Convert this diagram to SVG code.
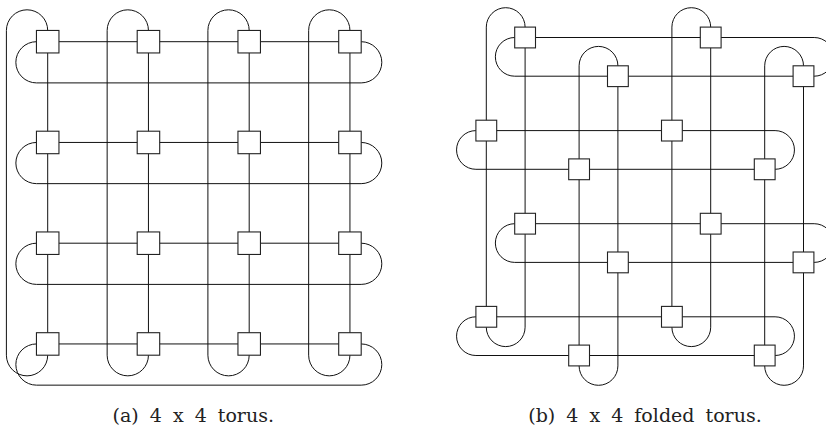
<svg xmlns="http://www.w3.org/2000/svg" width="826" height="432" viewBox="0 0 826 432">
<style>
.w{fill:none;stroke:#111;stroke-width:1}
.n{fill:#fff;stroke:#222;stroke-width:1.1}
.cap{font-family:"DejaVu Serif","Liberation Serif",serif;font-size:19px;fill:#222;text-anchor:middle;word-spacing:5px}
</style>
<rect width="826" height="432" fill="#fff"/>
<g id="connectors-a">
<path class="w" d="M36.45,41.7H361.2A20.6,20.6 0 0 1 361.2,82.9H36.45A20.6,20.6 0 0 1 36.45,41.7Z"/>
<path class="w" d="M36.45,142.45H361.2A20.6,20.6 0 0 1 361.2,183.65H36.45A20.6,20.6 0 0 1 36.45,142.45Z"/>
<path class="w" d="M36.45,243.2H361.2A20.6,20.6 0 0 1 361.2,284.4H36.45A20.6,20.6 0 0 1 36.45,243.2Z"/>
<path class="w" d="M36.45,343.95H361.2A20.6,20.6 0 0 1 361.2,385.15H36.45A20.6,20.6 0 0 1 36.45,343.95Z"/>
<path class="w" d="M47.7,30.45V355.2A20.65,20.65 0 0 1 6.4,355.2V30.45A20.65,20.65 0 0 1 47.7,30.45Z"/>
<path class="w" d="M148.45,30.45V355.2A20.65,20.65 0 0 1 107.15,355.2V30.45A20.65,20.65 0 0 1 148.45,30.45Z"/>
<path class="w" d="M249.2,30.45V355.2A20.65,20.65 0 0 1 207.9,355.2V30.45A20.65,20.65 0 0 1 249.2,30.45Z"/>
<path class="w" d="M349.95,30.45V355.2A20.65,20.65 0 0 1 308.65,355.2V30.45A20.65,20.65 0 0 1 349.95,30.45Z"/>
</g>
<g id="nodes-a">
<g id="a00"><rect class="n" x="36.45" y="30.45" width="22.5" height="22.5"/></g>
<g id="a01"><rect class="n" x="137.2" y="30.45" width="22.5" height="22.5"/></g>
<g id="a02"><rect class="n" x="237.95" y="30.45" width="22.5" height="22.5"/></g>
<g id="a03"><rect class="n" x="338.7" y="30.45" width="22.5" height="22.5"/></g>
<g id="a10"><rect class="n" x="36.45" y="131.2" width="22.5" height="22.5"/></g>
<g id="a11"><rect class="n" x="137.2" y="131.2" width="22.5" height="22.5"/></g>
<g id="a12"><rect class="n" x="237.95" y="131.2" width="22.5" height="22.5"/></g>
<g id="a13"><rect class="n" x="338.7" y="131.2" width="22.5" height="22.5"/></g>
<g id="a20"><rect class="n" x="36.45" y="231.95" width="22.5" height="22.5"/></g>
<g id="a21"><rect class="n" x="137.2" y="231.95" width="22.5" height="22.5"/></g>
<g id="a22"><rect class="n" x="237.95" y="231.95" width="22.5" height="22.5"/></g>
<g id="a23"><rect class="n" x="338.7" y="231.95" width="22.5" height="22.5"/></g>
<g id="a30"><rect class="n" x="36.45" y="332.7" width="22.5" height="22.5"/></g>
<g id="a31"><rect class="n" x="137.2" y="332.7" width="22.5" height="22.5"/></g>
<g id="a32"><rect class="n" x="237.95" y="332.7" width="22.5" height="22.5"/></g>
<g id="a33"><rect class="n" x="338.7" y="332.7" width="22.5" height="22.5"/></g>
</g>
<g id="connectors-b">
<path class="w" d="M514.7,37.5H814.2A19.35,19.35 0 0 1 814.2,76.2H514.7A19.35,19.35 0 0 1 514.7,37.5Z"/>
<path class="w" d="M475.9,130.6H775.1A19.35,19.35 0 0 1 775.1,169.3H475.9A19.35,19.35 0 0 1 475.9,130.6Z"/>
<path class="w" d="M514.7,223.7H814.2A19.35,19.35 0 0 1 814.2,262.4H514.7A19.35,19.35 0 0 1 514.7,223.7Z"/>
<path class="w" d="M475.9,316.8H775.1A19.35,19.35 0 0 1 775.1,355.5H475.9A19.35,19.35 0 0 1 475.9,316.8Z"/>
<path class="w" d="M525.1,27.1V327.2A19.4,19.4 0 0 1 486.3,327.2V27.1A19.4,19.4 0 0 1 525.1,27.1Z"/>
<path class="w" d="M617.9,65.8V365.9A19.4,19.4 0 0 1 579.1,365.9V65.8A19.4,19.4 0 0 1 617.9,65.8Z"/>
<path class="w" d="M710.7,27.1V327.2A19.4,19.4 0 0 1 671.9,327.2V27.1A19.4,19.4 0 0 1 710.7,27.1Z"/>
<path class="w" d="M803.5,65.8V365.9A19.4,19.4 0 0 1 764.7,365.9V65.8A19.4,19.4 0 0 1 803.5,65.8Z"/>
</g>
<g id="nodes-b">
<g id="b00"><rect class="n" x="514.7" y="27.1" width="20.8" height="20.8"/></g>
<g id="b01"><rect class="n" x="700.3" y="27.1" width="20.8" height="20.8"/></g>
<g id="b02"><rect class="n" x="607.5" y="65.8" width="20.8" height="20.8"/></g>
<g id="b03"><rect class="n" x="793.1" y="65.8" width="20.8" height="20.8"/></g>
<g id="b10"><rect class="n" x="475.9" y="120.2" width="20.8" height="20.8"/></g>
<g id="b11"><rect class="n" x="661.5" y="120.2" width="20.8" height="20.8"/></g>
<g id="b12"><rect class="n" x="568.7" y="158.9" width="20.8" height="20.8"/></g>
<g id="b13"><rect class="n" x="754.3" y="158.9" width="20.8" height="20.8"/></g>
<g id="b20"><rect class="n" x="514.7" y="213.3" width="20.8" height="20.8"/></g>
<g id="b21"><rect class="n" x="700.3" y="213.3" width="20.8" height="20.8"/></g>
<g id="b22"><rect class="n" x="607.5" y="252" width="20.8" height="20.8"/></g>
<g id="b23"><rect class="n" x="793.1" y="252" width="20.8" height="20.8"/></g>
<g id="b30"><rect class="n" x="475.9" y="306.4" width="20.8" height="20.8"/></g>
<g id="b31"><rect class="n" x="661.5" y="306.4" width="20.8" height="20.8"/></g>
<g id="b32"><rect class="n" x="568.7" y="345.1" width="20.8" height="20.8"/></g>
<g id="b33"><rect class="n" x="754.3" y="345.1" width="20.8" height="20.8"/></g>
</g>
<text class="cap" x="193.3" y="422">(a) 4 x 4 torus.</text>
<text class="cap" x="645" y="422">(b) 4 x 4 folded torus.</text>
</svg>
